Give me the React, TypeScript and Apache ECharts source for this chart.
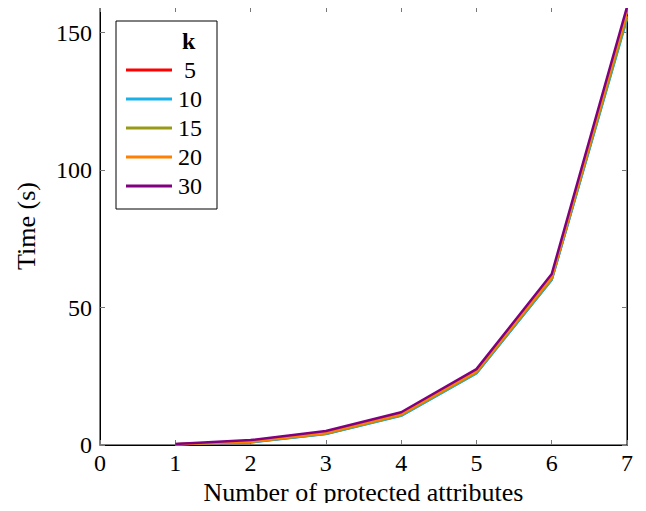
import React, { useEffect, useRef } from "react";
import * as echarts from "echarts";

// Number of protected attributes
const attributes = [1, 2, 3, 4, 5, 6, 7];

// Runtime in seconds for each k
const kLabels = ["5", "10", "15", "20", "30"];
const timeK5 = [0.3, 1.0, 4.1, 10.8, 26.2, 60.2, 155.5];
const timeK10 = [0.3, 1.0, 4.0, 10.6, 26.0, 60.0, 155.0];
const timeK15 = [0.3, 1.1, 4.2, 10.9, 26.4, 60.5, 156.0];
const timeK20 = [0.3, 1.2, 4.4, 11.2, 26.8, 61.0, 157.5];
const timeK30 = [0.4, 1.8, 5.1, 11.9, 27.6, 62.2, 159.3];

const seriesValues = [timeK5, timeK10, timeK15, timeK20, timeK30];
const seriesColors = ["#ff0000", "#1ab0e8", "#999918", "#ff8000", "#800080"];

const xTicks = [0, 1, 2, 3, 4, 5, 6, 7];
const yTicks = [0, 50, 100, 150];
const yMax = 159.3;

const FONT = "'Liberation Serif', 'Times New Roman', serif";
const FS = 24;
const NAME_FS = 26;

export default function App() {
  const ref = useRef<HTMLDivElement>(null);

  useEffect(() => {
    if (!ref.current) return;
    const chart = echarts.init(ref.current, null, { renderer: "svg" });

    const tickStyle = { show: true, inside: true, length: 5, lineStyle: { color: "#777", width: 1 } };
    const axisLine = { show: true, onZero: false, lineStyle: { color: "#000", width: 1 } };

    chart.setOption({
      animation: false,
      backgroundColor: "#fff",
      grid: {
        left: 100,
        right: 19,
        top: 7,
        bottom: 66,
        containLabel: false,
        show: true,
        borderColor: "#000",
        borderWidth: 1,
      },
      xAxis: [
        {
          type: "value",
          min: xTicks[0],
          max: xTicks[xTicks.length - 1],
          interval: 1,
          position: "bottom",
          name: "Number of protected attributes",
          nameLocation: "middle",
          nameGap: 34,
          nameTextStyle: { fontFamily: FONT, fontSize: NAME_FS, color: "#000" },
          axisLine,
          axisTick: tickStyle,
          axisLabel: { fontFamily: FONT, fontSize: FS, color: "#000", margin: 6 },
          splitLine: { show: false },
        },
        {
          type: "value",
          min: xTicks[0],
          max: xTicks[xTicks.length - 1],
          interval: 1,
          position: "top",
          axisLine,
          axisTick: tickStyle,
          axisLabel: { show: false },
          splitLine: { show: false },
        },
      ],
      yAxis: [
        {
          type: "value",
          min: 0,
          max: yMax,
          interval: 50,
          position: "left",
          name: "Time (s)",
          nameLocation: "middle",
          nameGap: 61,
          nameTextStyle: { fontFamily: FONT, fontSize: NAME_FS, color: "#000" },
          axisLine,
          axisTick: tickStyle,
          axisLabel: {
            fontFamily: FONT,
            fontSize: FS,
            color: "#000",
            margin: 8,
            formatter: (v: number) => (yTicks.includes(v) ? String(v) : ""),
          },
          splitLine: { show: false },
        },
        {
          type: "value",
          min: 0,
          max: yMax,
          interval: 50,
          position: "right",
          axisLine,
          axisTick: tickStyle,
          axisLabel: { show: false },
          splitLine: { show: false },
        },
      ],
      legend: {
        orient: "vertical",
        left: 116,
        top: 21,
        padding: [37, 14, 11, 10],
        itemWidth: 46,
        itemHeight: 3,
        itemGap: 5,
        backgroundColor: "#fff",
        borderColor: "#000",
        borderWidth: 1,
        borderRadius: 0,
        selectedMode: false,
        data: kLabels.map((k) => ({ name: k, icon: "rect" })),
        formatter: (name: string) => `{c|${name}}`,
        textStyle: {
          fontFamily: FONT,
          fontSize: FS,
          color: "#000",
          lineHeight: 20,
          rich: { c: { width: 26, align: "center", fontFamily: FONT, fontSize: FS, lineHeight: 20 } },
        },
      },
      graphic: [
        {
          type: "text",
          left: 182,
          top: 29,
          z: 100,
          style: { text: "k", fontFamily: FONT, fontSize: FS, fontWeight: "bold", fill: "#000" },
        },
      ],
      series: seriesValues.map((vals, i) => ({
        name: kLabels[i],
        type: "line",
        xAxisIndex: 0,
        yAxisIndex: 0,
        data: attributes.map((x, j) => [x, vals[j]]),
        showSymbol: false,
        symbol: "none",
        lineStyle: { color: seriesColors[i], width: 2.5 },
        itemStyle: { color: seriesColors[i] },
        z: 2 + i,
      })),
    });

    return () => chart.dispose();
  }, []);

  return <div ref={ref} style={{ width: 646, height: 511, margin: -8 }} />;
}
